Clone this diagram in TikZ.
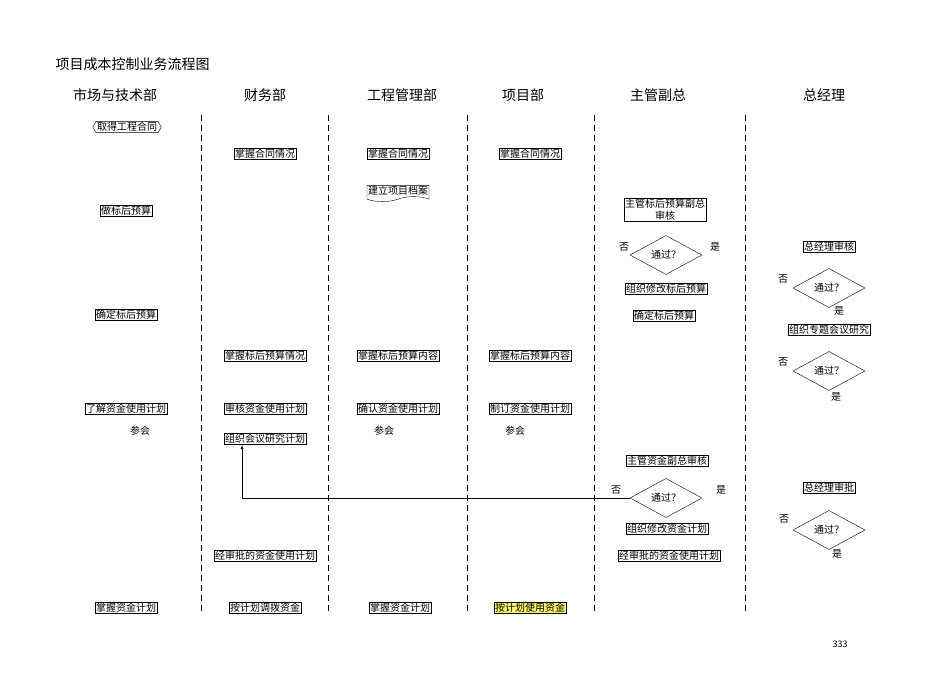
\documentclass[tikz,border=0pt]{standalone}
\usepackage{fontspec}
\setmainfont{Noto Sans CJK SC}
\usetikzlibrary{shapes.geometric,shapes.symbols}
\tikzset{
  box/.style = {draw, inner sep=1pt, font=\fontsize{10}{12}\selectfont},
  txt/.style = {inner sep=0pt, font=\fontsize{10}{12}\selectfont},
  head/.style = {font=\fontsize{14}{16}\selectfont},
  test/.style = {draw, diamond, minimum width=72pt, minimum height=30pt, inner sep=0pt, font=\fontsize{10}{12}\selectfont},
  lane/.style = {dashed, dash pattern=on 6pt off 4pt}
}
\begin{document}
\begin{tikzpicture}[x=1pt,y=-1pt]
  \useasboundingbox (0,0) rectangle (950,672);
  \node[anchor=west, font=\fontsize{14}{16}\selectfont] (title) at (52,64) {项目成本控制业务流程图};

  % lanes
  \foreach \x in {201,328,467,594,745}
    \draw[lane] (\x,115) -- (\x,612);
  \node[head] (h1) at (115,95) {市场与技术部};
  \node[head] (h2) at (265,95) {财务部};
  \node[head] (h3) at (402,95) {工程管理部};
  \node[head] (h4) at (523,95) {项目部};
  \node[head] (h5) at (658,95) {主管副总};
  \node[head] (h6) at (824,95) {总经理};

  % market
  \node[draw, signal, signal to=west and east, signal pointer angle=120, inner sep=1pt,
        font=\fontsize{10}{12}\selectfont] (contract) at (127,127) {取得工程合同};
  \node[box] (budget) at (126,211) {做标后预算};
  \node[box] (fixbudget) at (126,315) {确定标后预算};
  \node[box] (learnplan) at (126,409) {了解资金使用计划};
  \node[txt] (join1) at (140,431) {参会};
  \node[box] (mastplan1) at (126,608) {掌握资金计划};

  % finance
  \node[box] (fcontract) at (265,154) {掌握合同情况};
  \node[box] (fbudget) at (265,356) {掌握标后预算情况};
  \node[box] (fcheck) at (265,409) {审核资金使用计划};
  \node[box] (fmeet) at (265,439) {组织会议研究计划};
  \node[box] (fapproved) at (265,556) {经审批的资金使用计划};
  \node[box] (falloc) at (265,608) {按计划调拨资金};

  % engineering
  \node[box] (econtract) at (398,154) {掌握合同情况};
  \node[draw, tape, tape bend top=none, inner sep=1pt,
        font=\fontsize{10}{12}\selectfont] (efile) at (398,191) {建立项目档案};
  \node[box] (ebudget) at (398,356) {掌握标后预算内容};
  \node[box] (econfirm) at (398,409) {确认资金使用计划};
  \node[txt] (join2) at (384,431) {参会};
  \node[box] (mastplan2) at (400,608) {掌握资金计划};

  % project
  \node[box] (pcontract) at (530,154) {掌握合同情况};
  \node[box] (pbudget) at (530,356) {掌握标后预算内容};
  \node[box] (pmake) at (530,409) {制订资金使用计划};
  \node[txt] (join3) at (515,431) {参会};
  \node[box, fill=yellow!60] (puse) at (530,608) {按计划使用资金};

  % vice manager
  \node[box, align=center] (vcheck) at (665,210) {主管标后预算副总\\审核};
  \node[test] (vpass1) at (666,255) {通过？};
  \node[txt] (vno1) at (624,247) {否};
  \node[txt] (vyes1) at (715,247) {是};
  \node[box] (vmodify1) at (666,289) {组织修改标后预算};
  \node[box] (vfix) at (664,316) {确定标后预算};
  \node[box] (vfund) at (667,461) {主管资金副总审核};
  \node[test] (vpass2) at (666,498) {通过？};
  \node[txt] (vno2) at (616,490) {否};
  \node[txt] (vyes2) at (721,490) {是};
  \node[box] (vmodify2) at (667,529) {组织修改资金计划};
  \node[box] (vapproved) at (669,556) {经审批的资金使用计划};

  % general manager
  \node[box] (gcheck) at (829,247) {总经理审核};
  \node[txt] (gno1) at (783,279) {否};
  \node[test] (gpass1) at (829,288) {通过？};
  \node[txt] (gyes1) at (839,311) {是};
  \node[box] (gmeet) at (829,330) {组织专题会议研究};
  \node[txt] (gno2) at (783,362) {否};
  \node[test] (gpass2) at (829,371) {通过？};
  \node[txt] (gyes2) at (836,397) {是};
  \node[box] (gapprove) at (829,488) {总经理审批};
  \node[txt] (gno3) at (784,519) {否};
  \node[test] (gpass3) at (829,530) {通过？};
  \node[txt] (gyes3) at (837,554) {是};

  % page number
  \node[font=\rmfamily\fontsize{9}{10}\selectfont] (page) at (840,644) {333};

  % return
  \draw[-latex] (vpass2.west) -| (fmeet.south -| 242,0);
\end{tikzpicture}
\end{document}
